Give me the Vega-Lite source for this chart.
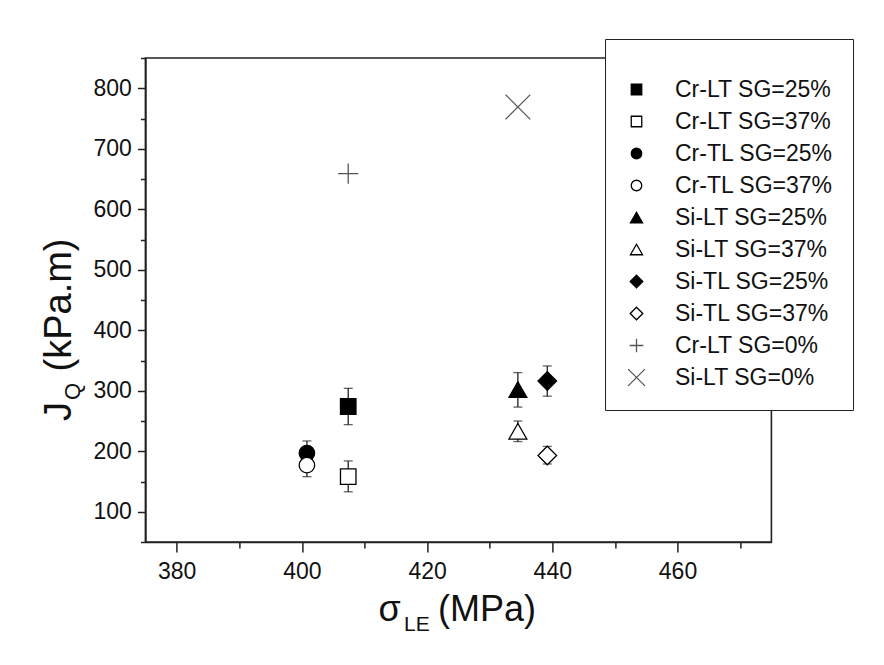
{
  "$schema": "https://vega.github.io/schema/vega-lite/v6.json",
  "width": 626,
  "height": 484,
  "autosize": {"type": "none"},
  "padding": {"left": 145.4, "top": 58, "right": 112.6, "bottom": 123},
  "background": "white",
  "config": {
    "font": "Liberation Sans",
    "view": {"stroke": "#222", "strokeWidth": 1.6},
    "axis": {
      "domainColor": "#222", "domainWidth": 1.6, "tickColor": "#222", "tickWidth": 1.5,
      "grid": false, "labelColor": "#111", "labelFontSize": 23, "titleColor": "#111",
      "labelFont": "Liberation Sans", "titleFont": "Liberation Sans", "titleFontWeight": "normal"
    }
  },
  "data": {
    "values": [
      {"series": "Cr-LT SG=25%", "x": 407.4, "y": 274, "lo": 244, "hi": 304},
      {"series": "Cr-LT SG=37%", "x": 407.4, "y": 158, "lo": 133, "hi": 184},
      {"series": "Cr-TL SG=25%", "x": 400.8, "y": 197, "lo": 177, "hi": 217},
      {"series": "Cr-TL SG=37%", "x": 400.8, "y": 177, "lo": 158, "hi": 196},
      {"series": "Si-LT SG=25%", "x": 434.5, "y": 302, "lo": 273, "hi": 330},
      {"series": "Si-LT SG=37%", "x": 434.5, "y": 233, "lo": 216, "hi": 250},
      {"series": "Si-TL SG=25%", "x": 439.2, "y": 316, "lo": 291, "hi": 341},
      {"series": "Si-TL SG=37%", "x": 439.2, "y": 193, "lo": 179, "hi": 208},
      {"series": "Cr-LT SG=0%", "x": 407.4, "y": 659},
      {"series": "Si-LT SG=0%", "x": 434.5, "y": 769}
    ]
  },
  "layer": [
    {
      "mark": {"type": "rule", "color": "#222", "strokeWidth": 1.3},
      "encoding": {
        "x": {
          "field": "x", "type": "quantitative",
          "scale": {"domain": [375, 475], "nice": false, "zero": false},
          "axis": {
            "orient": "bottom", "values": [380, 400, 420, 440, 460], "tickSize": 10, "labelPadding": 8,
            "title": "σ", "titleFontSize": 36, "titleBaseline": "alphabetic", "titleX": 243.6, "titleY": 78
          }
        },
        "y": {
          "field": "lo", "type": "quantitative",
          "scale": {"domain": [50, 850], "nice": false, "zero": false},
          "axis": {
            "orient": "left", "values": [100, 200, 300, 400, 500, 600, 700, 800], "tickSize": 8, "labelPadding": 6,
            "title": "J", "titleFontSize": 38, "titleAngle": 270, "titleBaseline": "alphabetic",
            "titleAlign": "center", "titleX": -75, "titleY": 353
          }
        },
        "y2": {"field": "hi"}
      }
    },
    {
      "mark": {"type": "tick", "orient": "horizontal", "size": 9, "thickness": 1.3, "color": "#222"},
      "encoding": {
        "x": {
          "field": "x", "type": "quantitative",
          "axis": {
            "orient": "bottom", "ticks": false, "labels": false, "domain": false,
            "title": "(MPa)", "titleFontSize": 36, "titleBaseline": "alphabetic", "titleX": 341.1, "titleY": 78
          }
        },
        "y": {"field": "lo", "type": "quantitative", "axis": null}
      }
    },
    {
      "mark": {"type": "tick", "orient": "horizontal", "size": 9, "thickness": 1.3, "color": "#222"},
      "encoding": {
        "x": {"field": "x", "type": "quantitative", "axis": null},
        "y": {
          "field": "hi", "type": "quantitative",
          "axis": {
            "orient": "left", "ticks": false, "labels": false, "domain": false,
            "title": "(kPa.m)", "titleFontSize": 38, "titleAngle": 270, "titleBaseline": "alphabetic",
            "titleAlign": "center", "titleX": -75, "titleY": 246.5
          }
        }
      }
    },
    {
      "mark": {"type": "point", "size": 240, "strokeWidth": 1.3, "opacity": 1},
      "encoding": {
        "x": {
          "field": "x", "type": "quantitative",
          "axis": {
            "orient": "bottom", "values": [390, 410, 430, 450, 470], "tickSize": 6, "labels": false, "domain": false,
            "title": "LE", "titleFontSize": 21, "titleBaseline": "alphabetic", "titleX": 271, "titleY": 88
          }
        },
        "y": {
          "field": "y", "type": "quantitative",
          "axis": {
            "orient": "left", "values": [50, 150, 250, 350, 450, 550, 650, 750, 850], "tickSize": 5, "labels": false, "domain": false,
            "title": "Q", "titleFontSize": 22, "titleAngle": 270, "titleBaseline": "alphabetic",
            "titleAlign": "center", "titleX": -66, "titleY": 333
          }
        },
        "shape": {
          "field": "series", "type": "nominal",
          "scale": {
            "domain": ["Cr-LT SG=25%", "Cr-LT SG=37%", "Cr-TL SG=25%", "Cr-TL SG=37%", "Si-LT SG=25%", "Si-LT SG=37%", "Si-TL SG=25%", "Si-TL SG=37%", "Cr-LT SG=0%", "Si-LT SG=0%"],
            "range": ["square", "square", "circle", "circle", "M0,-1L1.15,1L-1.15,1Z", "M0,-1L1.15,1L-1.15,1Z", "M0,-1.2L1.2,0L0,1.2L-1.2,0Z", "M0,-1.2L1.2,0L0,1.2L-1.2,0Z", "M-1.3,0H1.3M0,-1.3V1.3", "M-1.6,-1.6L1.6,1.6M-1.6,1.6L1.6,-1.6"]
          },
          "legend": {
            "title": "\u00a0", "titleFontSize": 19, "titlePadding": 0,
            "orient": "none", "legendX": 459.6, "legendY": -19,
            "padding": 20, "strokeColor": "#222", "fillColor": "white",
            "labelFontSize": 23, "labelColor": "#111", "labelOffset": 27, "labelLimit": 400,
            "symbolSize": 110, "symbolStrokeWidth": 1.3, "rowPadding": 8
          }
        },
        "fill": {
          "field": "series", "type": "nominal",
          "scale": {
            "domain": ["Cr-LT SG=25%", "Cr-LT SG=37%", "Cr-TL SG=25%", "Cr-TL SG=37%", "Si-LT SG=25%", "Si-LT SG=37%", "Si-TL SG=25%", "Si-TL SG=37%", "Cr-LT SG=0%", "Si-LT SG=0%"],
            "range": ["#000000", "#ffffff", "#000000", "#ffffff", "#000000", "#ffffff", "#000000", "#ffffff", "transparent", "transparent"]
          }
        },
        "stroke": {
          "field": "series", "type": "nominal",
          "scale": {
            "domain": ["Cr-LT SG=25%", "Cr-LT SG=37%", "Cr-TL SG=25%", "Cr-TL SG=37%", "Si-LT SG=25%", "Si-LT SG=37%", "Si-TL SG=25%", "Si-TL SG=37%", "Cr-LT SG=0%", "Si-LT SG=0%"],
            "range": ["#000000", "#000000", "#000000", "#000000", "#000000", "#000000", "#000000", "#000000", "#555555", "#555555"]
          }
        }
      }
    }
  ],
  "resolve": {"axis": {"x": "independent", "y": "independent"}}
}
